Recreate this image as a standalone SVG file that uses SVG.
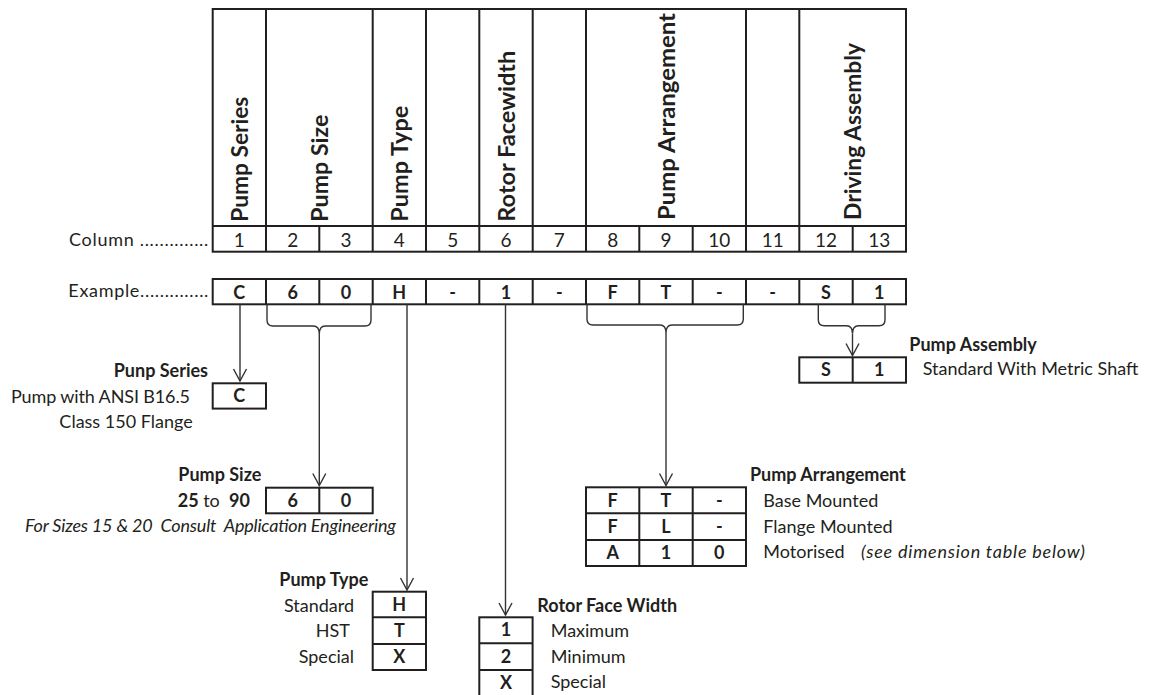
<svg xmlns="http://www.w3.org/2000/svg" width="1152" height="695" viewBox="0 0 1152 695">
<style>
text{font-family:Lato,"Liberation Sans",sans-serif;fill:#231f20;font-size:18px}
.b{font-weight:bold}
.i{font-style:italic}
.h{font-weight:bold;font-size:23px}
.c{text-anchor:middle}
.e{text-anchor:end}
.n{font-size:19px}
.t{fill:none;stroke:#231f20;stroke-width:2}
.cn{fill:none;stroke:#333;stroke-width:1.4}
</style>
<defs>
<marker id="v" viewBox="-14 -8 16 16" markerWidth="16" markerHeight="16" refX="0" refY="0" orient="auto" markerUnits="userSpaceOnUse">
<path d="M-12,-6.5 L0,0 L-12,6.5" fill="none" stroke="#333" stroke-width="1.4"/>
</marker>
</defs>
<rect width="1152" height="695" fill="#fff"/>

<g id="header">
<rect class="t" x="212.7" y="9" width="693.3" height="242.7"/>
<path class="t" d="M212.7,226H906M266,9V251.7M372.7,9V251.7M426,9V251.7M479.3,9V251.7M532.7,9V251.7M586,9V251.7M746,9V251.7M799.3,9V251.7M319.3,226V251.7M639.3,226V251.7M692.7,226V251.7M852.7,226V251.7"/>
<text class="h" transform="translate(248,221.7) rotate(-90)" textLength="125" lengthAdjust="spacingAndGlyphs">Pump Series</text>
<text class="h" transform="translate(327.5,221.7) rotate(-90)" textLength="107" lengthAdjust="spacingAndGlyphs">Pump Size</text>
<text class="h" transform="translate(408,221.7) rotate(-90)" textLength="116" lengthAdjust="spacingAndGlyphs">Pump Type</text>
<text class="h" transform="translate(514.5,221.7) rotate(-90)" textLength="171" lengthAdjust="spacingAndGlyphs">Rotor Facewidth</text>
<text class="h" transform="translate(674.5,220) rotate(-90)" textLength="207" lengthAdjust="spacingAndGlyphs">Pump Arrangement</text>
<text class="h" transform="translate(861,220) rotate(-90)" textLength="177" lengthAdjust="spacingAndGlyphs">Driving Assembly</text>
<text x="69" y="245.7" textLength="139.3" lengthAdjust="spacing">Column ..............</text>
<text class="c n" x="239.3" y="247">1</text><text class="c n" x="292.7" y="247">2</text><text class="c n" x="346" y="247">3</text><text class="c n" x="399.3" y="247">4</text><text class="c n" x="452.7" y="247">5</text><text class="c n" x="506" y="247">6</text><text class="c n" x="559.3" y="247">7</text><text class="c n" x="612.7" y="247">8</text><text class="c n" x="666" y="247">9</text><text class="c n" x="719.3" y="247">10</text><text class="c n" x="772.7" y="247">11</text><text class="c n" x="826" y="247">12</text><text class="c n" x="879.3" y="247">13</text>
</g>

<g id="example">
<text x="68.3" y="296.7" textLength="140" lengthAdjust="spacing">Example..............</text>
<rect class="t" x="212.7" y="279" width="693.3" height="25.3"/>
<path class="t" d="M266,279V304.3M319.3,279V304.3M372.7,279V304.3M426,279V304.3M479.3,279V304.3M532.7,279V304.3M586,279V304.3M639.3,279V304.3M692.7,279V304.3M746,279V304.3M799.3,279V304.3M852.7,279V304.3"/>
<text class="b c" x="239.3" y="298.5">C</text><text class="b c" x="292.7" y="298.5">6</text><text class="b c" x="346" y="298.5">0</text><text class="b c" x="399.3" y="298.5">H</text><text class="b c" x="452.7" y="298.5">-</text><text class="b c" x="506" y="298.5">1</text><text class="b c" x="559.3" y="298.5">-</text><text class="b c" x="612.7" y="298.5">F</text><text class="b c" x="666" y="298.5">T</text><text class="b c" x="719.3" y="298.5">-</text><text class="b c" x="772.7" y="298.5">-</text><text class="b c" x="826" y="298.5">S</text><text class="b c" x="879.3" y="298.5">1</text>
</g>

<g id="connectors">
<path class="cn" d="M240,304.3V381" marker-end="url(#v)"/>
<path class="cn" d="M267,304.3V320Q267,326 273,326H313.3Q319.3,326 319.3,334Q319.3,326 325.3,326H365Q371,326 371,320V304.3"/>
<path class="cn" d="M319.3,334V485.5" marker-end="url(#v)"/>
<path class="cn" d="M407,304.3V590" marker-end="url(#v)"/>
<path class="cn" d="M505.5,304.3V615" marker-end="url(#v)"/>
<path class="cn" d="M587,304.3V319Q587,325 593,325H660Q666,325 666,333Q666,325 672,325H737.3Q743.3,325 743.3,319V304.3"/>
<path class="cn" d="M666,333V485.5" marker-end="url(#v)"/>
<path class="cn" d="M818.3,304.3V319.7Q818.3,325.7 824.3,325.7H846.5Q852.5,325.7 852.5,333.5Q852.5,325.7 858.5,325.7H879Q885,325.7 885,319.7V304.3"/>
<path class="cn" d="M852.5,333.5V355.5" marker-end="url(#v)"/>
</g>

<g id="pump-series">
<text class="b e" x="208" y="376.7">Punp Series</text>
<text class="e" x="190" y="402.7" textLength="179" lengthAdjust="spacing">Pump with ANSI B16.5</text>
<text class="e" x="192.7" y="428">Class 150 Flange</text>
<rect class="t" x="212.7" y="383.3" width="53.3" height="25.3"/>
<text class="b c" x="239.3" y="402">C</text>
</g>

<g id="pump-size">
<text class="b" x="178.3" y="480.7">Pump Size</text>
<text x="177.7" y="506.7" style="white-space:pre"><tspan class="b">25</tspan> to  <tspan class="b">90</tspan></text>
<text class="i" x="25" y="531.7" style="white-space:pre" textLength="371" lengthAdjust="spacing">For Sizes 15 &amp; 20  Consult  Application Engineering</text>
<rect class="t" x="266" y="487.7" width="106.7" height="25.6"/>
<path class="t" d="M319.3,487.7V513.3"/>
<text class="b c" x="292.7" y="506.5">6</text><text class="b c" x="346" y="506.5">0</text>
</g>

<g id="pump-type">
<text class="b e" x="368.3" y="586">Pump Type</text>
<text class="e" x="354" y="611.7">Standard</text>
<text class="e" x="350" y="637.3">HST</text>
<text class="e" x="354" y="663.3">Special</text>
<rect class="t" x="372.7" y="591.7" width="53.3" height="78.3"/>
<path class="t" d="M372.7,617.3H426M372.7,644H426"/>
<text class="b c" x="399.3" y="610.5">H</text><text class="b c" x="399.3" y="636.7">T</text><text class="b c" x="399.3" y="663">X</text>
</g>

<g id="rotor-face-width">
<text class="b" x="537.3" y="611.7">Rotor Face Width</text>
<text x="550.7" y="636.7">Maximum</text>
<text x="550.7" y="662.7">Minimum</text>
<text x="550.7" y="688.3">Special</text>
<rect class="t" x="479.3" y="617.3" width="53.3" height="80"/>
<path class="t" d="M479.3,643.3H532.7M479.3,670H532.7"/>
<text class="b c" x="506" y="636.3">1</text><text class="b c" x="506" y="662.7">2</text><text class="b c" x="506" y="689">X</text>
</g>

<g id="pump-arrangement">
<text class="b" x="750" y="480.7">Pump Arrangement</text>
<text x="763.3" y="506.7">Base Mounted</text>
<text x="763.3" y="532.7">Flange Mounted</text>
<text x="763.3" y="558.3">Motorised</text>
<text class="i" x="861" y="558.3" textLength="224" lengthAdjust="spacing">(see dimension table below)</text>
<rect class="t" x="586" y="487.3" width="160" height="78.7"/>
<path class="t" d="M586,513.3H746M586,540H746M639.3,487.3V566M692.7,487.3V566"/>
<text class="b c" x="612.7" y="506.5">F</text><text class="b c" x="666" y="506.5">T</text><text class="b c" x="719.3" y="506.5">-</text>
<text class="b c" x="612.7" y="533">F</text><text class="b c" x="666" y="533">L</text><text class="b c" x="719.3" y="533">-</text>
<text class="b c" x="612.7" y="559.3">A</text><text class="b c" x="666" y="559.3">1</text><text class="b c" x="719.3" y="559.3">0</text>
</g>

<g id="pump-assembly">
<text class="b" x="909.3" y="350.7">Pump Assembly</text>
<text x="922.7" y="375">Standard With Metric Shaft</text>
<rect class="t" x="799.3" y="357.3" width="106.7" height="25.4"/>
<path class="t" d="M852.7,357.3V382.7"/>
<text class="b c" x="826" y="376">S</text><text class="b c" x="879.3" y="376">1</text>
</g>
</svg>
